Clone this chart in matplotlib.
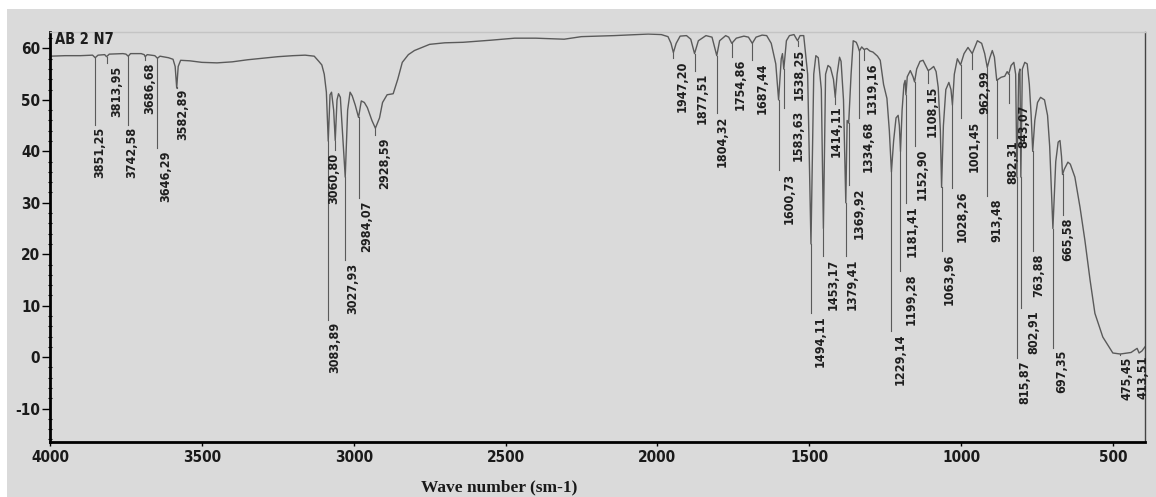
import numpy as np
import matplotlib.pyplot as plt
from matplotlib.patches import Rectangle

plt.rcParams['axes.unicode_minus'] = False

# spectrum trace (wavenumber, transmittance)
trace_wn = [4000, 3950, 3900, 3860, 3851.25, 3842, 3820, 3813.95, 3805, 3760, 3750, 3742.58, 3735,
            3700, 3690, 3686.68, 3680, 3655, 3646.29, 3638, 3610, 3595, 3588, 3582.89, 3578, 3570,
            3540, 3500, 3450, 3400, 3350, 3300, 3250, 3200, 3160, 3130, 3115, 3105, 3097, 3090,
            3083.89, 3078, 3073, 3066, 3060.80, 3055, 3050, 3044, 3027.93, 3020, 3012, 3005, 2995,
            2984.07, 2975, 2965, 2955, 2940, 2928.59, 2915, 2905, 2890, 2870, 2855, 2840, 2820,
            2800, 2750, 2700, 2640, 2550, 2470, 2400, 2307, 2250, 2142, 2030, 1987, 1965, 1955,
            1947.20, 1938, 1925, 1904, 1890, 1877.51, 1865, 1840, 1820, 1804.32, 1795, 1775, 1765,
            1754.86, 1740, 1715, 1700, 1687.44, 1675, 1655, 1640, 1625, 1610, 1600.73, 1592, 1588,
            1583.63, 1575, 1565, 1550, 1538.25, 1530, 1518, 1512, 1505, 1494.11, 1485, 1478, 1470,
            1460, 1453.17, 1446, 1438, 1430, 1420, 1414.11, 1408, 1400, 1395, 1387, 1379.41, 1375,
            1369.92, 1362, 1355, 1345, 1340, 1334.68, 1327, 1319.16, 1310, 1300, 1290, 1275, 1266,
            1255, 1244, 1236, 1229.14, 1222, 1214, 1207, 1203, 1199.28, 1194, 1188, 1184, 1181.41,
            1177, 1167, 1158, 1152.90, 1146, 1135, 1125, 1115, 1108.15, 1100, 1090, 1082, 1075,
            1068, 1063.96, 1058, 1050, 1040, 1033, 1028.26, 1022, 1012, 1001.45, 990, 977, 962.99,
            946, 932, 922, 913.48, 905, 897, 890, 882.31, 868, 856, 848, 843.07, 835, 826, 820,
            815.87, 810, 806, 802.91, 798, 790, 782, 775, 769, 763.88, 757, 748, 738, 725, 715, 708,
            697.35, 688, 680, 674, 669, 665.58, 660, 648, 640, 625, 608, 592, 575, 559, 533, 500,
            475.45, 440, 420, 413.51, 404, 394]
trace_t = [58.5, 58.6, 58.6, 58.7, 58.2, 58.7, 58.8, 58.4, 58.9, 59.0, 58.9, 58.5, 59.0,
           59.0, 58.8, 58.4, 58.8, 58.6, 58.1, 58.5, 58.2, 57.9, 56.5, 52.3, 56.5, 57.7,
           57.6, 57.3, 57.2, 57.4, 57.8, 58.1, 58.4, 58.6, 58.7, 58.5, 57.5, 56.8, 55.0, 51.5,
           42.0, 51.0, 51.5, 48.0, 42.1, 50.0, 51.2, 50.5, 35.0, 48.0, 51.5, 50.8, 49.0,
           46.6, 49.8, 49.5, 48.5, 46.0, 44.5, 46.5, 49.5, 51.0, 51.2, 54.0, 57.3, 58.8,
           59.6, 60.8, 61.1, 61.2, 61.6, 62.0, 62.0, 61.8, 62.3, 62.5, 62.8, 62.7, 62.3, 61.0,
           59.2, 61.0, 62.4, 62.5, 61.8, 59.0, 61.5, 62.5, 62.2, 58.6, 61.5, 62.5, 62.2,
           61.0, 62.0, 62.4, 62.2, 61.0, 62.2, 62.6, 62.5, 61.0, 57.0, 50.0, 58.0, 59.0,
           56.0, 61.5, 62.5, 62.7, 61.5, 62.5, 62.5, 59.0, 55.0, 22.0, 55.0, 58.6, 58.2,
           52.0, 25.0, 55.0, 56.7, 56.3, 54.0, 50.5, 55.0, 58.3, 57.5, 50.0, 30.0, 46.0,
           45.5, 55.0, 61.5, 61.2, 60.5, 59.5, 60.3, 59.8, 60.0, 59.5, 59.3, 58.5, 57.7,
           53.0, 50.3, 44.0, 36.0, 42.0, 46.5, 47.0, 45.0, 40.0, 48.0, 53.0, 53.8, 51.0,
           54.5, 55.7, 54.5, 53.5, 56.0, 57.5, 57.7, 56.5, 55.7, 56.0, 56.5, 55.5, 52.4,
           44.0, 33.0, 45.0, 52.0, 53.4, 52.0, 49.0, 55.0, 58.0, 56.8, 59.0, 60.2, 59.0,
           61.5, 61.0, 59.0, 56.3, 58.2, 59.6, 58.3, 53.8, 54.4, 54.6, 55.5, 55.0, 56.7, 57.3, 55.0,
           35.0, 55.0, 56.0, 35.0, 56.0, 57.3, 57.0, 53.0, 47.0, 40.0, 46.0, 49.5, 50.5, 50.0, 47.0, 41.0,
           25.0, 38.0, 41.8, 42.1, 39.0, 35.5, 36.5, 37.9, 37.5, 35.0, 29.1, 22.7, 15.0, 8.5, 3.9, 0.8,
           0.6, 0.9, 1.7, 0.8, 1.2, 2.0]

# labelled peaks
peak_wn = [3851.25, 3813.95, 3742.58, 3686.68, 3646.29, 3582.89, 3083.89, 3060.80, 3027.93,
           2984.07, 2928.59, 1947.20, 1877.51, 1804.32, 1754.86, 1687.44, 1600.73, 1583.63,
           1538.25, 1494.11, 1453.17, 1414.11, 1379.41, 1369.92, 1334.68, 1319.16, 1229.14,
           1199.28, 1181.41, 1152.90, 1108.15, 1063.96, 1028.26, 1001.45, 962.99, 913.48,
           882.31, 843.07, 815.87, 802.91, 763.88, 697.35, 665.58, 475.45, 413.51]
peak_labels = [('%.2f' % w).replace('.', ',') for w in peak_wn]
# where the label text starts (top of rotated text), in T units
label_top = [44.7, 56.7, 44.7, 57.3, 40.2, 52.2, 6.8, 39.8, 18.4,
             30.5, 42.7, 57.7, 55.3, 47.0, 58.0, 57.3, 35.9, 48.0,
             60.0, 8.2, 19.2, 48.9, 19.2, 33.0, 46.0, 57.3, 4.7,
             16.3, 29.5, 40.6, 52.8, 20.2, 32.4, 46.0, 55.7, 30.9,
             42.1, 49.0, -0.6, 9.1, 20.2, 1.4, 27.2, 0.0, 0.4]
# horizontal shift of each label from its line, in pixels
label_dx = [5, 10, 4, 5, 8, 6, 7, -1, 8,
            8, 9, 9, 8, 5, 8, 10, 11, 14,
            2, 9, 10, 1, 6, 11, 9, 8, 9,
            11, 6, 8, 4, 8, 10, 14, 13, 10,
            16, 15, 8, 13, 6, 9, 5, 7, 4]

txt = dict(family='DejaVu Sans', fontstretch='condensed', color='#1e1e1e')
ink = '#5a5a5a'

fig = plt.figure(figsize=(11.56, 4.97), dpi=100, facecolor='white')
fig.patches.append(Rectangle((0.006, 0), 0.994, 0.982, transform=fig.transFigure,
                             facecolor='#dadada', edgecolor='none', zorder=-10))
ax = fig.add_axes([0.0433, 0.1107, 0.9472, 0.8249])
ax.set_facecolor('#dadada')

ax.plot(trace_wn, trace_t, color=ink, lw=1.0)

wn_rev = np.array(trace_wn)[::-1]
t_rev = np.array(trace_t)[::-1]
for w, lab, top, dx in zip(peak_wn, peak_labels, label_top, label_dx):
    start = np.interp(w, wn_rev, t_rev)
    ax.plot([w, w], [start, top + 0.4], color=ink, lw=0.8)
    ax.annotate(lab, xy=(w, top), xytext=(dx * 0.72, 0), textcoords='offset points',
                rotation=90, ha='center', va='top', fontsize=9, weight='bold',
                annotation_clip=False, **txt)

ax.text(3985, 61.7, 'AB 2 N7', fontsize=10.5, weight='bold', va='center', **txt)

ax.set_xlim(4000, 394)
ax.set_ylim(-16.5, 63.2)
ax.set_xticks([4000, 3500, 3000, 2500, 2000, 1500, 1000, 500])
ax.set_yticks([60, 50, 40, 30, 20, 10, 0, -10])
ax.set_yticks(np.arange(-16, 63, 2), minor=True)
ax.tick_params(axis='y', which='major', length=6, width=1, direction='out', pad=1)
ax.tick_params(axis='y', which='minor', length=3, width=0.8, direction='inout')
ax.tick_params(axis='x', which='major', length=3, width=1, direction='out', pad=3)
for lab in ax.get_xticklabels() + ax.get_yticklabels():
    lab.set_family('DejaVu Sans')
    lab.set_stretch('condensed')
    lab.set_weight('bold')
    lab.set_fontsize(11)
    lab.set_color('#1a1a1a')

ax.spines['left'].set_linewidth(2)
ax.spines['bottom'].set_linewidth(2)
ax.spines['right'].set_linewidth(1)
ax.spines['right'].set_color('#444444')
ax.spines['top'].set_linewidth(1)
ax.spines['top'].set_color('#c4c4c4')

fig.text(0.432, 0.02, 'Wave number (sm-1)', family='Liberation Serif', weight='bold',
         fontsize=12.5, ha='center', va='center', color='#1a1a1a')

fig.savefig('out.png', dpi=100, facecolor=fig.get_facecolor())
